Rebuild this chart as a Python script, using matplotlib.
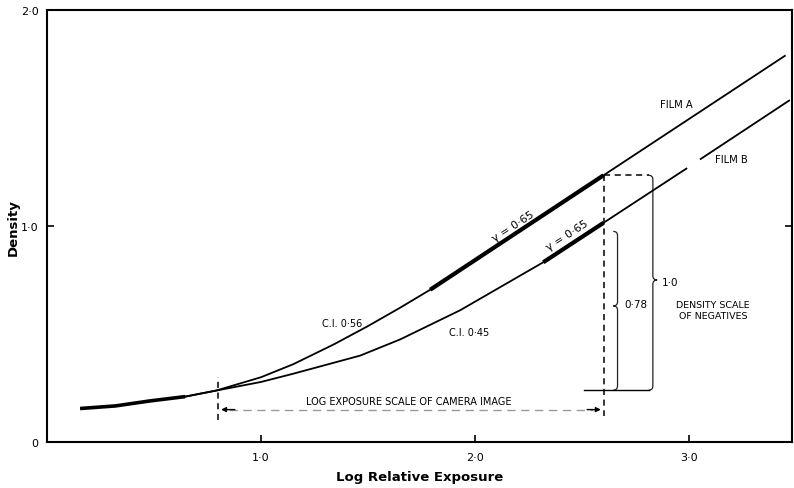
import matplotlib
matplotlib.use("Agg")
import matplotlib.pyplot as plt
from matplotlib.path import Path
from matplotlib.patches import PathPatch

plt.rcParams['font.family'] = ['DejaVu Sans']

# ---- data ----
film_a_x = [0.155, 0.32, 0.48, 0.645, 0.79, 1.0, 1.15, 1.34, 1.5, 1.65, 1.79, 2.6, 3.45]
film_a_y = [0.155, 0.167, 0.19, 0.21, 0.238, 0.30, 0.36, 0.452, 0.537, 0.622, 0.705, 1.235, 1.79]

film_b_x = [0.155, 0.32, 0.48, 0.645, 0.79, 1.0, 1.15, 1.463, 1.65, 1.93, 2.318, 2.6, 2.99]
film_b_y = [0.155, 0.167, 0.19, 0.21, 0.238, 0.278, 0.316, 0.40, 0.475, 0.61, 0.832, 1.015, 1.268]
film_b2_x = [3.05, 3.47]
film_b2_y = [1.308, 1.583]

# straight-line (gamma) portions drawn heavy
thick_a_x = [1.79, 2.6]
thick_a_y = [0.705, 1.235]
thick_b_x = [2.318, 2.6]
thick_b_y = [0.832, 1.015]

x_ticks = [1.0, 2.0, 3.0]
x_tick_labels = ["1·0", "2·0", "3·0"]
y_ticks = [0.0, 1.0, 2.0]
y_tick_labels = ["0", "1·0", "2·0"]

base_density = 0.24
log_start = 0.8
log_end = 2.6
dens_a_end = 1.235
dens_b_end = 1.015

fig = plt.figure(figsize=(7.94, 4.89), dpi=100)
ax = fig.add_axes([0.0592, 0.0941, 0.9383, 0.8834])
ax.set_xlim(0, 3.48)
ax.set_ylim(0, 2.0)

for s in ax.spines.values():
    s.set_linewidth(1.5)
    s.set_color('black')

ax.set_xticks(x_ticks)
ax.set_xticklabels(x_tick_labels, fontsize=8)
ax.set_yticks(y_ticks)
ax.set_yticklabels(y_tick_labels, fontsize=8)
ax.tick_params(axis='both', direction='in', length=5, width=1.2, color='black')
ax.tick_params(axis='x', pad=7)
ax.tick_params(axis='y', pad=6, right=True)

ax.set_xlabel("Log Relative Exposure", fontsize=9.5, fontweight='bold', labelpad=6)
fig.text(13 / 794, 1 - 228 / 489, "Density", rotation=90, fontsize=9.5, fontweight='bold',
         ha='center', va='center')

# curves
ax.plot(film_a_x, film_a_y, color='black', lw=1.3, solid_capstyle='butt', solid_joinstyle='round')
ax.plot(film_b_x, film_b_y, color='black', lw=1.3, solid_capstyle='butt', solid_joinstyle='round')
ax.plot(film_b2_x, film_b2_y, color='black', lw=1.3, solid_capstyle='butt')
ax.plot(film_a_x[:4], film_a_y[:4], color='black', lw=2.6, solid_capstyle='butt', solid_joinstyle='round')
ax.plot(thick_a_x, thick_a_y, color='black', lw=3.0, solid_capstyle='butt')
ax.plot(thick_b_x, thick_b_y, color='black', lw=3.0, solid_capstyle='butt')

# dashed guide lines
dash = (0, (4, 3))
ax.plot([log_end, log_end], [dens_a_end, 0.12], color='black', lw=1.1, ls=dash)
ax.plot([log_end, 2.81], [dens_a_end, dens_a_end], color='black', lw=1.1, ls=dash)
ax.plot([log_start, log_start], [0.10, 0.30], color='black', lw=1.1, ls=dash)

# baseline of density scale
ax.plot([2.51, 2.81], [base_density, base_density], color='black', lw=1.0)

# log exposure arrow
ax.plot([log_start + 0.05, log_end - 0.05], [0.15, 0.15], color='#9a9a9a', lw=1.0, ls=(0, (6, 4)))
ax.annotate('', xy=(log_start, 0.15), xytext=(log_start + 0.09, 0.15),
            arrowprops=dict(arrowstyle='-|>', color='black', lw=1.0, mutation_scale=7))
ax.annotate('', xy=(log_end, 0.15), xytext=(log_end - 0.09, 0.15),
            arrowprops=dict(arrowstyle='-|>', color='black', lw=1.0, mutation_scale=7))
ax.text(1.69, 0.19, "LOG EXPOSURE SCALE OF CAMERA IMAGE", fontsize=7, ha='center', va='center')


def brace(xv, ytop, ybot, ytip, direction, r=0.02):
    # direction +1 -> tip points right, -1 -> tip points left
    d = direction
    verts = [
        (xv - r, ytop), (xv, ytop), (xv, ytop - r),
        (xv, ytip + r),
        (xv, ytip), (xv + d * r, ytip),
        (xv, ytip), (xv, ytip - r),
        (xv, ybot + r),
        (xv, ybot), (xv - r, ybot),
    ]
    codes = [Path.MOVETO, Path.CURVE3, Path.CURVE3,
             Path.LINETO,
             Path.CURVE3, Path.CURVE3,
             Path.CURVE3, Path.CURVE3,
             Path.LINETO,
             Path.CURVE3, Path.CURVE3]
    ax.add_patch(PathPatch(Path(verts, codes), fill=False, edgecolor='#222222', lw=0.9))


brace(2.83, dens_a_end, base_density, 0.75, +1)
brace(2.665, 0.975, base_density, 0.63, -1)

# labels
ax.text(2.178, 1.0, "γ = 0·65", fontsize=8, rotation=33, ha='center', va='center')
ax.text(2.43, 0.96, "γ = 0·65", fontsize=8, rotation=33, ha='center', va='center')
ax.text(1.378, 0.55, "C.I. 0·56", fontsize=7, ha='center', va='center')
ax.text(1.97, 0.51, "C.I. 0·45", fontsize=7, ha='center', va='center')
ax.text(2.94, 1.565, "FILM A", fontsize=7.2, ha='center', va='center')
ax.text(3.196, 1.31, "FILM B", fontsize=7.2, ha='center', va='center')
ax.text(2.91, 0.74, "1·0", fontsize=7.5, ha='center', va='center')
ax.text(2.75, 0.64, "0·78", fontsize=7.5, ha='center', va='center')
ax.text(3.11, 0.61, "DENSITY SCALE\nOF NEGATIVES", fontsize=6.8, ha='center', va='center',
        linespacing=1.3)

fig.savefig("out.png", dpi=100)
